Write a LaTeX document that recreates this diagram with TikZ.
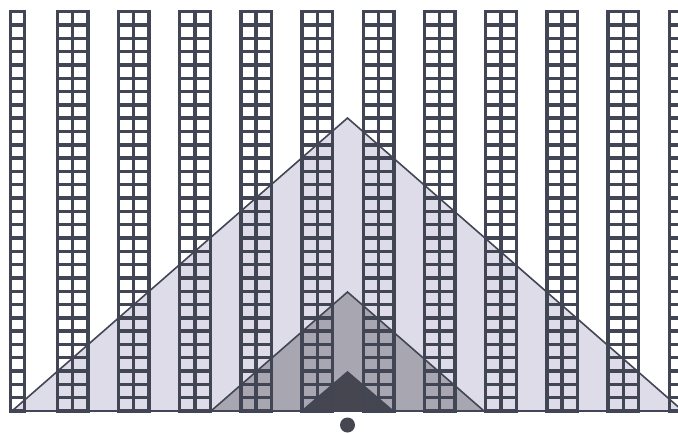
\documentclass[tikz,border=0pt]{standalone}
\usepackage{xcolor}
\usetikzlibrary{calc}

\definecolor{towergray}{RGB}{66,70,84}
\definecolor{trilight}{RGB}{221,220,232}
\definecolor{trimid}{RGB}{168,167,177}
\definecolor{tridark}{RGB}{70,70,80}

\begin{document}
\begin{tikzpicture}[
  x=1pt, y=-1pt,
  gridline/.style={draw=towergray, line width=3.4pt, line cap=rect},
  tri/.style={draw=towergray, line width=1.6pt, line join=miter},
  hub/.style={circle, fill=tridark, inner sep=0pt, minimum size=15pt},
]
  \useasboundingbox (0,0) rectangle (678,432);
  \fill[white] (0,0) rectangle (678,432);
  \clip (0,0) rectangle (678,432);

  % nested triangles
  \filldraw[tri, fill=trilight] (12,411) -- (347.5,118) -- (683,411) -- cycle;
  \filldraw[tri, fill=trimid] (211,411) -- (347.5,292) -- (484,411) -- cycle;
  \filldraw[tri, fill=tridark] (302,411) -- (347.5,372) -- (393,411) -- cycle;

  % narrow tower at the left edge
  \draw[gridline] (10.3,11.7) rectangle (24.5,411);
  \foreach \r in {1,...,29}
    \draw[gridline] (10.3,{11.7+\r*13.31}) -- (24.5,{11.7+\r*13.31});

  % double towers
  \foreach \k in {0,...,10} {
    \pgfmathsetmacro{\xc}{72.5+\k*61.2}
    \draw[gridline] ({\xc-15.3},11.7) rectangle ({\xc+15.3},411);
    \draw[gridline] (\xc,11.7) -- (\xc,411);
    \foreach \r in {1,...,29}
      \draw[gridline] ({\xc-15.3},{11.7+\r*13.31}) -- ({\xc+15.3},{11.7+\r*13.31});
  }

  \node[hub] (hub) at (347.5,425) {};
\end{tikzpicture}
\end{document}
